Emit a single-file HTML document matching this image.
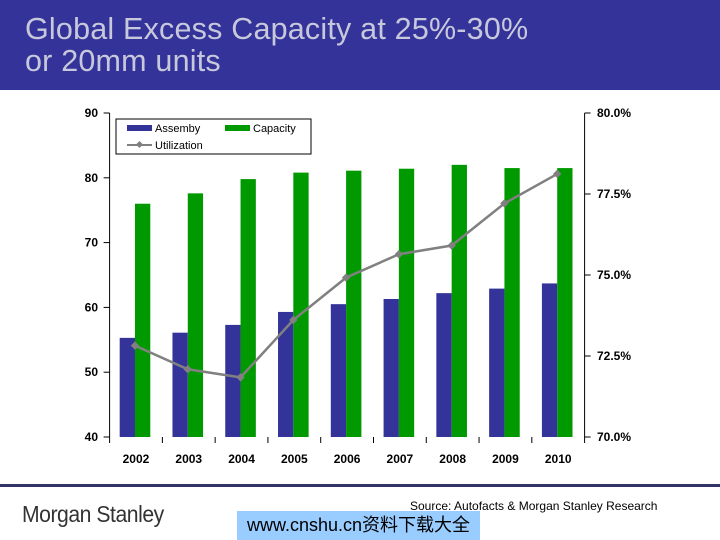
<!DOCTYPE html>
<html><head><meta charset="utf-8"><style>
body{margin:0;width:720px;height:540px;overflow:hidden;background:#fff;font-family:"Liberation Sans",sans-serif;position:relative}
#hdr{position:absolute;left:0;top:0;width:720px;height:90px;background:#333399}
#title{position:absolute;left:25px;top:13px;color:#c8c8dc;font-size:30.5px;line-height:32px;letter-spacing:0.2px}
#rule{position:absolute;left:0;top:484px;width:720px;height:3px;background:#333366}
#logo{position:absolute;left:22px;top:501px;font-size:23px;color:#333;letter-spacing:-0.5px;transform:scaleX(0.92);transform-origin:left}
#src{position:absolute;left:410px;top:499px;font-size:12px;color:#000}
#wm{position:absolute;left:237px;top:511px;width:243px;height:29px;background:#99ccff;font-family:"Liberation Sans","Noto Sans CJK SC",sans-serif;font-size:18px;line-height:29px;text-align:center;color:#000}
svg{position:absolute;left:0;top:0}
text{font-family:"Liberation Sans",sans-serif}
</style></head><body>
<div id="hdr"><div id="title">Global Excess Capacity at 25%-30%<br>or 20mm units</div></div>
<svg id="chart" width="720" height="540"></svg>
<div id="rule"></div>
<div id="logo">Morgan Stanley</div>
<div id="src">Source: Autofacts &amp; Morgan Stanley Research</div>
<div id="wm">www.cnshu.cn资料下载大全</div>
<script>
const categories=["2002","2003","2004","2005","2006","2007","2008","2009","2010"];
const assembly=[55.3,56.1,57.3,59.3,60.5,61.3,62.2,62.9,63.7];
const capacity=[76.0,77.6,79.8,80.8,81.1,81.4,82.0,81.5,81.5];
const utilization=[72.82,72.09,71.84,73.61,74.92,75.64,75.91,77.21,78.12];
const leftTicks=[40,50,60,70,80,90];
const rightTicks=[70,72.5,75,77.5,80];
const NS="http://www.w3.org/2000/svg";
const svg=document.getElementById('chart');
const X0=109.6,X1=584.6,Y0=437,Y1=113;
const band=(X1-X0)/categories.length;
const yL=v=>Y0-(v-40)/(90-40)*(Y0-Y1);
const yR=v=>Y0-(v-70)/(80-70)*(Y0-Y1);
const xc=i=>X0+band*(i+0.5)-1;
function el(t,a,p){const e=document.createElementNS(NS,t);for(const k in a)e.setAttribute(k,a[k]);(p||svg).appendChild(e);return e;}
const bw=15.3;
categories.forEach((c,i)=>{
 const a=el('rect',{x:xc(i)-bw,y:yL(assembly[i]),width:bw,height:Y0-yL(assembly[i]),fill:'#333399'});
 
 
 const g=el('rect',{x:xc(i),y:yL(capacity[i]),width:bw,height:Y0-yL(capacity[i]),fill:'#009900'});
 
 
 const t=el('text',{x:xc(i)+1,y:463,'text-anchor':'middle','font-size':12,'font-weight':'bold'});
 t.textContent=c;
 
 
});
el('line',{x1:X0,y1:Y1,x2:X0,y2:Y0,stroke:'#000'});
el('line',{x1:X1,y1:Y1,x2:X1,y2:Y0,stroke:'#000'});
for(let i=0;i<=categories.length;i++){el('line',{x1:X0+band*i,y1:Y0,x2:X0+band*i,y2:Y0+6,stroke:'#000'});}
leftTicks.forEach(v=>{
 el('line',{x1:X0-6,y1:yL(v),x2:X0,y2:yL(v),stroke:'#000'});
 const t=el('text',{x:98,y:yL(v)+4,'text-anchor':'end','font-size':12,'font-weight':'bold'});
 t.textContent=v;
 
 
});
rightTicks.forEach(v=>{
 el('line',{x1:X1,y1:yR(v),x2:X1+6,y2:yR(v),stroke:'#000'});
 const t=el('text',{x:597,y:yR(v)+4,'font-size':12,'font-weight':'bold'});
 t.textContent=v.toFixed(1)+'%';
 
 
});
const pts=utilization.map((v,i)=>xc(i)+','+yR(v)).join(' ');
const pl=el('polyline',{points:pts,fill:'none',stroke:'#808080','stroke-width':2.5});


utilization.forEach((v,i)=>{
 const m=el('rect',{x:xc(i)-3,y:yR(v)-3,width:6,height:6,fill:'#808080',transform:`rotate(45 ${xc(i)} ${yR(v)})`});
 
 
});
const lg=el('g',{});


el('rect',{x:116,y:119,width:195,height:35,fill:'#fff',stroke:'#000'},lg);
el('rect',{x:127,y:125,width:25,height:6,fill:'#333399'},lg);
el('rect',{x:225,y:125,width:25,height:6,fill:'#009900'},lg);
el('line',{x1:127,y1:145,x2:152,y2:145,stroke:'#808080','stroke-width':2},lg);
el('rect',{x:137,y:142,width:5,height:5,fill:'#808080',transform:'rotate(45 139.5 144.5)'},lg);
[['Assemby',155,132],['Capacity',253,132],['Utilization',155,149]].forEach(a=>{const t=el('text',{x:a[1],y:a[2],'font-size':11},lg);t.textContent=a[0];});
</script>
</body></html>
